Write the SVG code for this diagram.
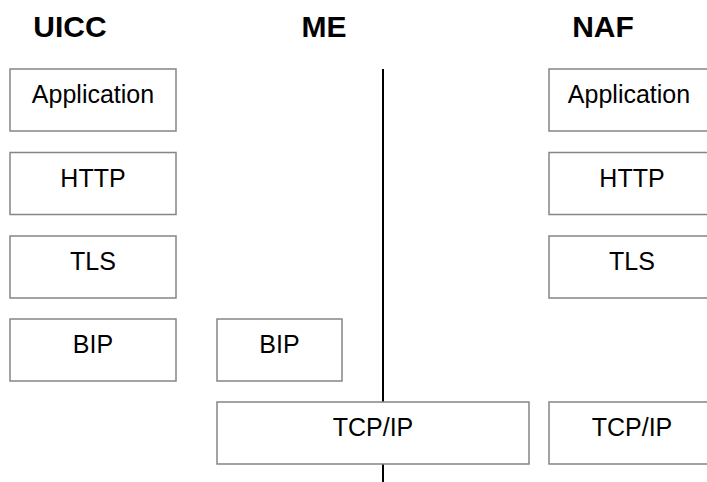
<svg xmlns="http://www.w3.org/2000/svg" width="707" height="482" viewBox="0 0 707 482">
<style>
.box{fill:#fff;stroke:#858585;stroke-width:1.5}
.lbl{font-family:"Liberation Sans",Arial,sans-serif;font-size:25px;fill:#000;text-anchor:middle}
.ttl{font-family:"Liberation Sans",Arial,sans-serif;font-size:30px;font-weight:bold;fill:#000;text-anchor:middle}
</style>
<rect width="707" height="482" fill="#fff"/>
<g id="titles">
<text class="ttl" x="70" y="37">UICC</text>
<text class="ttl" x="324" y="37">ME</text>
<text class="ttl" x="603" y="37">NAF</text>
</g>
<g id="connectors">
<line x1="383" y1="69" x2="383" y2="482" stroke="#000" stroke-width="2"/>
</g>
<g id="uicc-app"><rect class="box" x="10" y="69" width="166" height="62"/><text class="lbl" x="93" y="103">Application</text></g>
<g id="uicc-http"><rect class="box" x="10" y="152.5" width="166" height="62"/><text class="lbl" x="93" y="187">HTTP</text></g>
<g id="uicc-tls"><rect class="box" x="10" y="236" width="166" height="62"/><text class="lbl" x="93" y="270">TLS</text></g>
<g id="uicc-bip"><rect class="box" x="10" y="319" width="166" height="62"/><text class="lbl" x="93" y="353">BIP</text></g>
<g id="me-bip"><rect class="box" x="217" y="319" width="125" height="62"/><text class="lbl" x="279.5" y="353">BIP</text></g>
<g id="me-tcpip"><rect class="box" x="217" y="402" width="312" height="62"/><text class="lbl" x="373" y="436">TCP/IP</text></g>
<g id="naf-app"><rect class="box" x="549" y="69" width="166" height="62"/><text class="lbl" x="629" y="103">Application</text></g>
<g id="naf-http"><rect class="box" x="549" y="152.5" width="166" height="62"/><text class="lbl" x="632" y="187">HTTP</text></g>
<g id="naf-tls"><rect class="box" x="549" y="236" width="166" height="62"/><text class="lbl" x="632" y="270">TLS</text></g>
<g id="naf-tcpip"><rect class="box" x="549" y="402" width="166" height="62"/><text class="lbl" x="632" y="436">TCP/IP</text></g>
</svg>
